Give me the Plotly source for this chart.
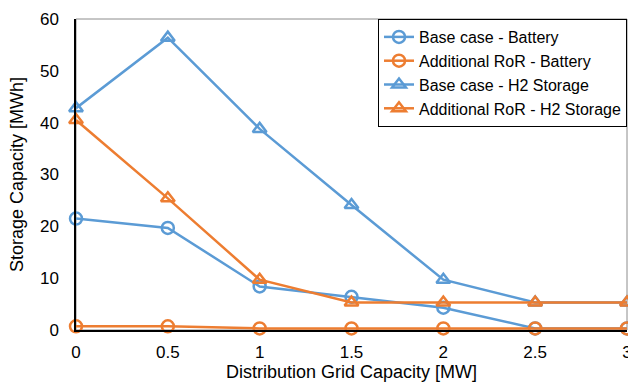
import plotly.graph_objects as go

x_vals = [0, 0.5, 1, 1.5, 2, 2.5, 3]
base_battery = [21.5, 19.7, 8.4, 6.4, 4.3, 0.3, 0.3]
ror_battery = [0.7, 0.7, 0.3, 0.3, 0.3, 0.3, 0.3]
base_h2 = [42.8, 56.4, 38.8, 24.1, 9.7, 5.3, 5.3]
ror_h2 = [40.5, 25.4, 9.7, 5.3, 5.3, 5.3, 5.3]

blue = "#5B9BD5"
orange = "#ED7D31"

series = [
    ("Base case - Battery", base_battery, blue, "circle-open"),
    ("Additional RoR - Battery", ror_battery, orange, "circle-open"),
    ("Base case - H2 Storage", base_h2, blue, "triangle-up-open"),
    ("Additional RoR - H2 Storage", ror_h2, orange, "triangle-up-open"),
]

fig = go.Figure()
for name, vals, col, sym in series:
    fig.add_trace(go.Scatter(
        x=x_vals, y=vals, name=name, mode="lines+markers",
        line=dict(color=col, width=2.5),
        marker=dict(symbol=sym, size=12, color=col, line=dict(color=col, width=2.5)),
        cliponaxis=False,
    ))

fig.update_layout(
    width=628, height=385,
    margin=dict(l=76, r=1, t=19, b=55, autoexpand=False),
    paper_bgcolor="white", plot_bgcolor="white",
    font=dict(family="Liberation Sans, Arial, sans-serif", size=15, color="black"),
    showlegend=True,
    legend=dict(x=1, y=1, xanchor="right", yanchor="top",
                bordercolor="black", borderwidth=1, bgcolor="white",
                font=dict(size=16), tracegroupgap=0, itemwidth=30,
                ),
    shapes=[dict(type="rect", xref="paper", yref="paper", x0=0, x1=1, y0=0, y1=1,
                 line=dict(color="#8c8c8c", width=1), layer="below")],
)
fig.update_xaxes(range=[0, 3], tickvals=x_vals, showgrid=False, zeroline=False,
                 showline=True, linecolor="black", linewidth=1.5, ticks="",
                 automargin=False, tickfont=dict(size=17), ticklabeloverflow="allow",
                 ticklabelstandoff=6,
                 title=dict(text="Distribution Grid Capacity [MW]", standoff=2))
fig.update_yaxes(range=[0, 60], dtick=10, showgrid=False, zeroline=False,
                 showline=True, linecolor="black", linewidth=1.5, ticks="",
                 automargin=False, tickfont=dict(size=17), ticklabelstandoff=12,
                 title=dict(text="Storage Capacity [MWh]", standoff=12))

fig.write_html("out.html", post_script="document.body.style.margin='0';",
               config={"displayModeBar": False})
